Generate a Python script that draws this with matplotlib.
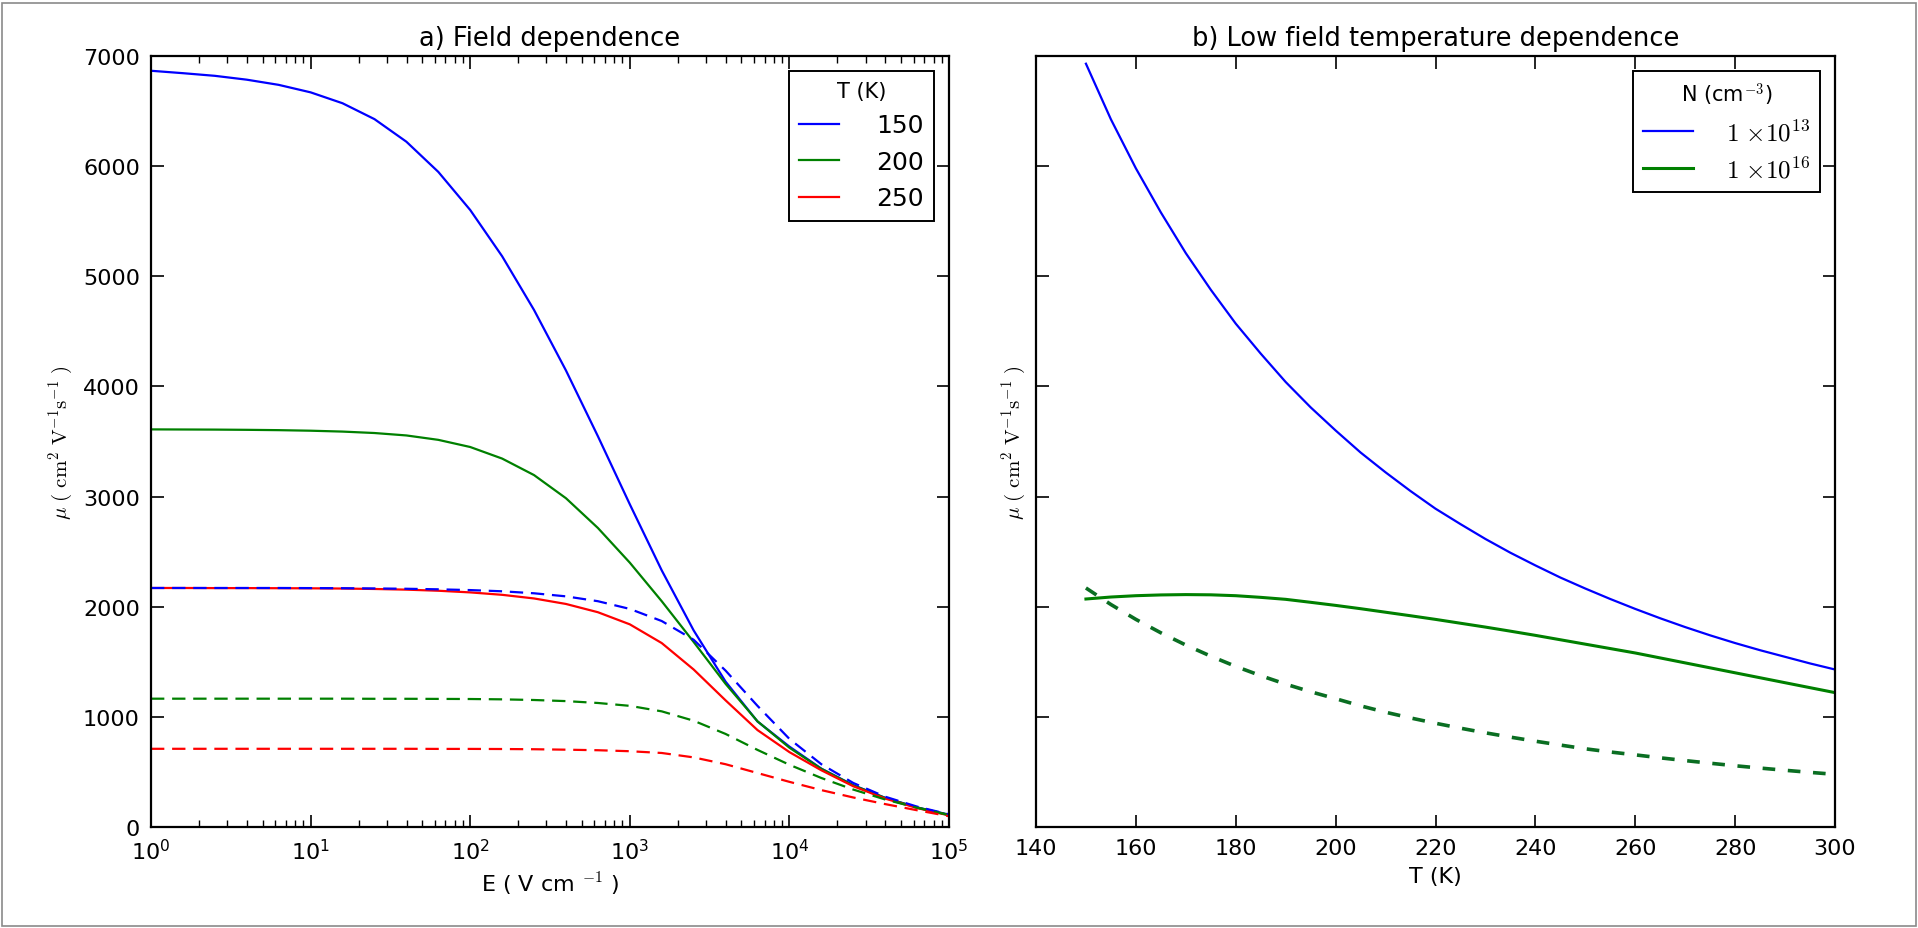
import matplotlib
matplotlib.use("Agg")
import matplotlib.pyplot as plt
from matplotlib.patches import Rectangle

# ---------------- data: a) field dependence (E in V/cm, 5 points per decade) ----------------
E_field = [1, 1.585, 2.512, 3.981, 6.31, 10, 15.85, 25.12, 39.81, 63.1,
           100, 158.5, 251.2, 398.1, 631, 1000, 1585, 2512, 3981, 6310,
           10000, 15850, 25120, 39810, 63100, 100000]
mu_150_low = [6866, 6844, 6820, 6785, 6738, 6670, 6571, 6427, 6222, 5948,
              5602, 5182, 4694, 4145, 3548, 2930, 2330, 1785, 1320, 958,
              730, 530, 380, 265, 178, 112]
mu_200_low = [3610, 3609, 3608, 3606, 3603, 3598, 3590, 3577, 3555, 3515,
              3450, 3345, 3195, 2985, 2715, 2400, 2050, 1680, 1300, 960,
              720, 528, 378, 264, 177, 110]
mu_250_low = [2170, 2170, 2169, 2169, 2168, 2167, 2165, 2161, 2155, 2145,
              2130, 2108, 2075, 2025, 1950, 1840, 1670, 1430, 1150, 880,
              680, 515, 370, 258, 172, 105]
mu_150_high = [2170, 2170, 2170, 2170, 2170, 2169, 2168, 2166, 2163, 2158,
               2151, 2140, 2122, 2094, 2050, 1980, 1870, 1700, 1420, 1100,
               800, 570, 400, 275, 185, 115]
mu_200_high = [1165, 1165, 1165, 1165, 1165, 1165, 1165, 1164, 1164, 1163,
               1162, 1159, 1153, 1143, 1126, 1100, 1050, 965, 845, 700,
               565, 445, 340, 250, 175, 108]
mu_250_high = [710, 710, 710, 710, 710, 710, 710, 710, 710, 709,
               709, 708, 706, 702, 697, 688, 672, 632, 570, 490,
               410, 335, 268, 208, 152, 98]
temps_legend = ["150", "200", "250"]

# ---------------- data: b) low field temperature dependence ----------------
T_K = [150, 155, 160, 165, 170, 175, 180, 185, 190, 195, 200, 205, 210, 215,
       220, 225, 230, 235, 240, 245, 250, 255, 260, 265, 270, 275, 280, 285,
       290, 295, 300]
mu_N13 = [6930, 6425, 5980, 5580, 5210, 4878, 4570, 4298, 4040, 3810, 3600,
          3400, 3220, 3050, 2890, 2750, 2615, 2490, 2375, 2265, 2165, 2070,
          1980, 1895, 1815, 1740, 1670, 1605, 1545, 1485, 1430]
mu_N16 = [2070, 2088, 2100, 2107, 2110, 2108, 2100, 2085, 2067, 2040, 2012,
          1982, 1950, 1918, 1885, 1850, 1815, 1778, 1740, 1700, 1660, 1620,
          1580, 1535, 1490, 1445, 1400, 1355, 1310, 1265, 1220]
mu_N16_model = [2170, 2020, 1885, 1763, 1652, 1551, 1458, 1374, 1297, 1228, 1165,
                1100, 1042, 990, 942, 897, 855, 816, 779, 744, 710, 681,
                655, 628, 603, 579, 556, 535, 515, 496, 478]
N_legend = [r"$1\ {\times}10^{13}$", r"$1\ {\times}10^{16}$"]

# ---------------- figure ----------------
plt.rcParams['font.family'] = ['DejaVu Sans']
plt.rcParams['mathtext.fontset'] = 'cm'
plt.rcParams['axes.linewidth'] = 1.6

W, H = 1918, 929
fig = plt.figure(figsize=(W / 100, H / 100), dpi=100)
fig.patch.set_facecolor('white')
fig.add_artist(Rectangle((2 / W, 0.002), 1 - 4 / W, 1 - 4 / H - 0.002,
                         transform=fig.transFigure, fill=False,
                         edgecolor='#8a8a8a', lw=1.2))

ax1 = fig.add_axes([151 / W, 1 - 828 / H, (949 - 151) / W, (828 - 57) / H])
ax2 = fig.add_axes([1036 / W, 1 - 828 / H, (1835 - 1036) / W, (828 - 57) / H], sharey=ax1)

ylab = r"$\mu\ (\ \rm cm^2\ V^{-1} s^{-1}\ )$"
lw = 1.6
dash_l = (0, (6, 3.5))
l1, = ax1.plot(E_field, mu_150_low, color='#0000ff', lw=lw)
l2, = ax1.plot(E_field, mu_200_low, color='#008000', lw=lw)
l3, = ax1.plot(E_field, mu_250_low, color='#ff0000', lw=lw)
ax1.plot(E_field, mu_150_high, color='#0000ff', lw=lw, ls=dash_l)
ax1.plot(E_field, mu_200_high, color='#008000', lw=lw, ls=dash_l)
ax1.plot(E_field, mu_250_high, color='#ff0000', lw=lw, ls=dash_l)
ax1.set_xscale('log')
ax1.set_xlim(1, 1e5)
ax1.set_ylim(0, 7000)
ax1.set_yticks(range(0, 7001, 1000))
ax1.set_title("a) Field dependence", fontsize=18.5, pad=8)
ax1.set_xlabel(r"E ( V cm $^{-1}$ )", fontsize=16, labelpad=5)
ax1.set_ylabel(ylab, fontsize=15, labelpad=6)
leg1 = ax1.legend([l1, l2, l3], temps_legend, title="T (K)", loc='upper right',
                  fontsize=18, title_fontsize=15, fancybox=False, framealpha=1,
                  edgecolor='black', handlelength=1.6, handletextpad=1.5,
                  borderaxespad=0.6, labelspacing=0.5)
leg1.get_frame().set_linewidth(1.4)

m1, = ax2.plot(T_K, mu_N13, color='#0000ff', lw=1.6)
m2, = ax2.plot(T_K, mu_N16, color='#008000', lw=2.2)
ax2.plot(T_K, mu_N16_model, color='#0a6e22', lw=2.6, ls=(0, (3.5, 3.5)))
ax2.set_xlim(140, 300)
ax2.set_xticks(range(140, 301, 20))
ax2.set_title("b) Low field temperature dependence", fontsize=18.5, pad=8)
ax2.set_xlabel("T (K)", fontsize=16, labelpad=6)
ax2.set_ylabel(ylab, fontsize=15, labelpad=6)
leg2 = ax2.legend([m1, m2], N_legend, title=r"N (cm$^{-3}$)", loc='upper right',
                  fontsize=18, title_fontsize=15, fancybox=False, framealpha=1,
                  edgecolor='black', handlelength=2.0, handletextpad=1.3,
                  borderaxespad=0.6, labelspacing=0.45)
leg2.get_frame().set_linewidth(1.4)

for ax in (ax1, ax2):
    ax.tick_params(which='both', direction='in', top=True, right=True,
                   labelsize=16, pad=8)
    ax.tick_params(which='major', length=9, width=1.2)
    ax.tick_params(which='minor', length=5, width=1.0)
ax2.tick_params(labelleft=False)

fig.savefig("out.png", dpi=100, facecolor='white')
